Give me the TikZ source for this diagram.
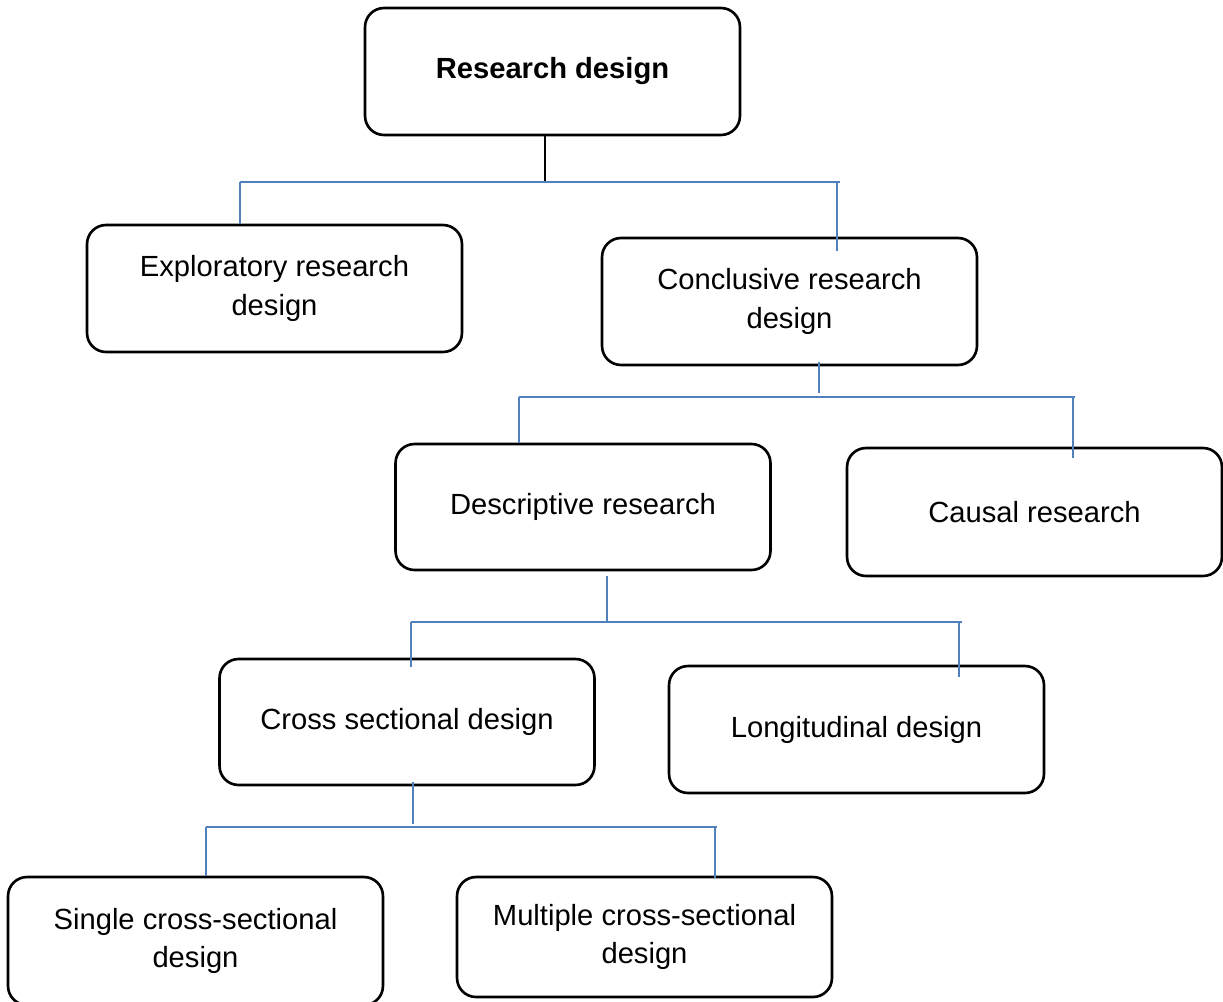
\documentclass[tikz,border=0pt]{standalone}
\usepackage{fontspec}
\setmainfont{Liberation Sans}
\definecolor{linkblue}{RGB}{79,129,189}
\begin{document}
\begin{tikzpicture}[x=0.02cm, y=-0.02cm,
    box/.style={draw, line width=1.5pt, rounded corners=0.38cm,
      minimum width=7.5cm, minimum height=2.54cm, inner sep=0pt,
      align=center, font=\fontsize{16.6}{22}\selectfont},
    link/.style={draw=linkblue, line width=0.9pt},
    stem/.style={draw=black, line width=0.6pt}]
  \useasboundingbox (0,0) rectangle (1223,1001);

  % Top box
  \node[box, font=\fontsize{16.6}{22}\selectfont\bfseries] (rd) at (552.5,71.5) {Research design};

  % Second row
  \node[box] (expl) at (274.5,288.5) {Exploratory research\\design};
  \node[box] (concl) at (789.5,301.5) {Conclusive research\\design};

  % Third row
  \node[box, minimum height=2.52cm] (desc) at (583,507) {Descriptive research};
  \node[box, minimum height=2.56cm] (causal) at (1034.5,512) {Causal research};

  % Fourth row
  \node[box, minimum height=2.52cm] (cross) at (407,722) {Cross sectional design};
  \node[box] (longi) at (856.5,729.5) {Longitudinal design};

  % Bottom row
  \node[box, minimum height=2.56cm] (single) at (195.5,941) {Single cross-sectional\\design};
  \node[box, minimum height=2.4cm] (multi) at (644.5,937) {Multiple cross-sectional\\design};

  % Research design split
  \coordinate (b1) at (545,182);
  \coordinate (b1w) at (240,182);
  \coordinate (b1e) at (840,182);
  \coordinate (t1) at (837,251);
  \draw[stem] (rd.south -| b1) -- (b1);
  \draw[link] (b1w) -- (b1e);
  \draw[link] (b1w) -- (b1w |- expl.north);
  \draw[link] (t1 |- b1) -- (t1);

  % Conclusive split
  \coordinate (s2) at (819,362);
  \coordinate (b2w) at (519,397);
  \coordinate (b2e) at (1075,397);
  \coordinate (t2) at (1073,458);
  \draw[link] (s2) -- (819,393);
  \draw[link] (b2w) -- (b2e);
  \draw[link] (b2w) -- (b2w |- desc.north);
  \draw[link] (t2 |- b2e) -- (t2);

  % Descriptive split
  \coordinate (s3) at (607,576);
  \coordinate (b3w) at (411,622);
  \coordinate (b3e) at (962,622);
  \coordinate (t3w) at (411,667);
  \coordinate (t3e) at (959,677);
  \draw[link] (s3) -- (s3 |- b3w);
  \draw[link] (b3w) -- (b3e);
  \draw[link] (t3w |- b3w) -- (t3w);
  \draw[link] (t3e |- b3e) -- (t3e);

  % Cross sectional split
  \coordinate (s4) at (413,782);
  \coordinate (b4w) at (206,827);
  \coordinate (b4e) at (717,827);
  \coordinate (t4) at (715,878);
  \draw[link] (s4) -- (413,824);
  \draw[link] (b4w) -- (b4e);
  \draw[link] (b4w) -- (b4w |- single.north);
  \draw[link] (t4 |- b4e) -- (t4);
\end{tikzpicture}
\end{document}
